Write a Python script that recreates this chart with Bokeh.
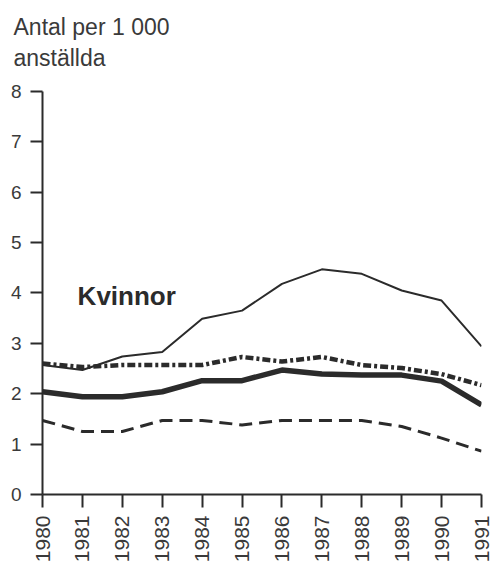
import math
from bokeh.plotting import figure
from bokeh.models import Range1d, FixedTicker, Label, Title
from bokeh.embed import file_html
from bokeh.resources import INLINE

# ---- data ----
years = [1980, 1981, 1982, 1983, 1984, 1985, 1986, 1987, 1988, 1989, 1990, 1991]
serie_tunn = [2.57, 2.47, 2.74, 2.83, 3.49, 3.65, 4.18, 4.47, 4.38, 4.05, 3.85, 2.94]
serie_streckpunkt = [2.60, 2.53, 2.57, 2.57, 2.57, 2.73, 2.64, 2.73, 2.57, 2.51, 2.39, 2.17]
serie_tjock = [2.04, 1.94, 1.94, 2.04, 2.26, 2.26, 2.47, 2.39, 2.37, 2.37, 2.25, 1.78]
serie_streckad = [1.47, 1.25, 1.25, 1.47, 1.47, 1.38, 1.47, 1.47, 1.47, 1.35, 1.12, 0.86]
y_ticks = [0, 1, 2, 3, 4, 5, 6, 7, 8]
title_lines = ["Antal per 1 000", "anställda"]
group_label = "Kvinnor"

INK = "#2b2b2b"
TXT = "#3a3a3a"
FONT = "Liberation Sans"

# y range runs a little above 8 so the frame reaches up to the heading;
# the axis itself is bounded to 0..8
Y_TOP = 8.377

p = figure(width=494, height=565,
           x_range=Range1d(years[0], years[-1]), y_range=Range1d(0, Y_TOP),
           output_backend="svg", toolbar_location=None,
           min_border_left=42, min_border_right=13,
           min_border_top=72, min_border_bottom=71)
p.outline_line_color = None
p.grid.visible = False
p.background_fill_color = "white"
p.border_fill_color = "white"

xa = p.xaxis[0]
xa.ticker = FixedTicker(ticks=years)
xa.major_label_orientation = math.pi / 2
xa.major_tick_out = 13
xa.major_tick_in = 0
xa.minor_tick_line_color = None
xa.axis_line_width = 2
xa.major_tick_line_width = 2
xa.axis_line_color = INK
xa.major_tick_line_color = INK
xa.major_label_standoff = 8
xa.major_label_text_font = FONT
xa.major_label_text_font_size = "21px"
xa.major_label_text_color = TXT

ya = p.yaxis[0]
ya.ticker = FixedTicker(ticks=y_ticks)
ya.bounds = (y_ticks[0], y_ticks[-1])
ya.major_tick_out = 12
ya.major_tick_in = 0
ya.minor_tick_line_color = None
ya.axis_line_width = 2
ya.major_tick_line_width = 2
ya.axis_line_color = INK
ya.major_tick_line_color = INK
ya.major_label_standoff = 9
ya.major_label_text_font = FONT
ya.major_label_text_font_size = "19px"
ya.major_label_text_color = TXT

p.line(years, serie_tunn, line_width=2, line_color=INK)
p.line(years, serie_streckpunkt, line_width=4.5, line_color=INK, line_dash="8 3 3 3")
p.line(years, serie_tjock, line_width=5.5, line_color=INK)
p.line(years, serie_streckad, line_width=3, line_color=INK, line_dash="13 7")

# two-line heading: the first added title sits nearest the frame
p.add_layout(Title(text=title_lines[1], align="left", offset=-29, standoff=4,
                   text_font=FONT, text_font_size="23px", text_font_style="normal",
                   text_color=TXT), "above")
p.add_layout(Title(text=title_lines[0], align="left", offset=-29, standoff=2,
                   text_font=FONT, text_font_size="23px", text_font_style="normal",
                   text_color=TXT), "above")

p.add_layout(Label(x=1980.88, y=3.94, text=group_label,
                   text_font=FONT, text_font_size="26px", text_font_style="bold",
                   text_color=INK, text_baseline="alphabetic"))

open("out.html", "w").write(file_html(p, INLINE))
